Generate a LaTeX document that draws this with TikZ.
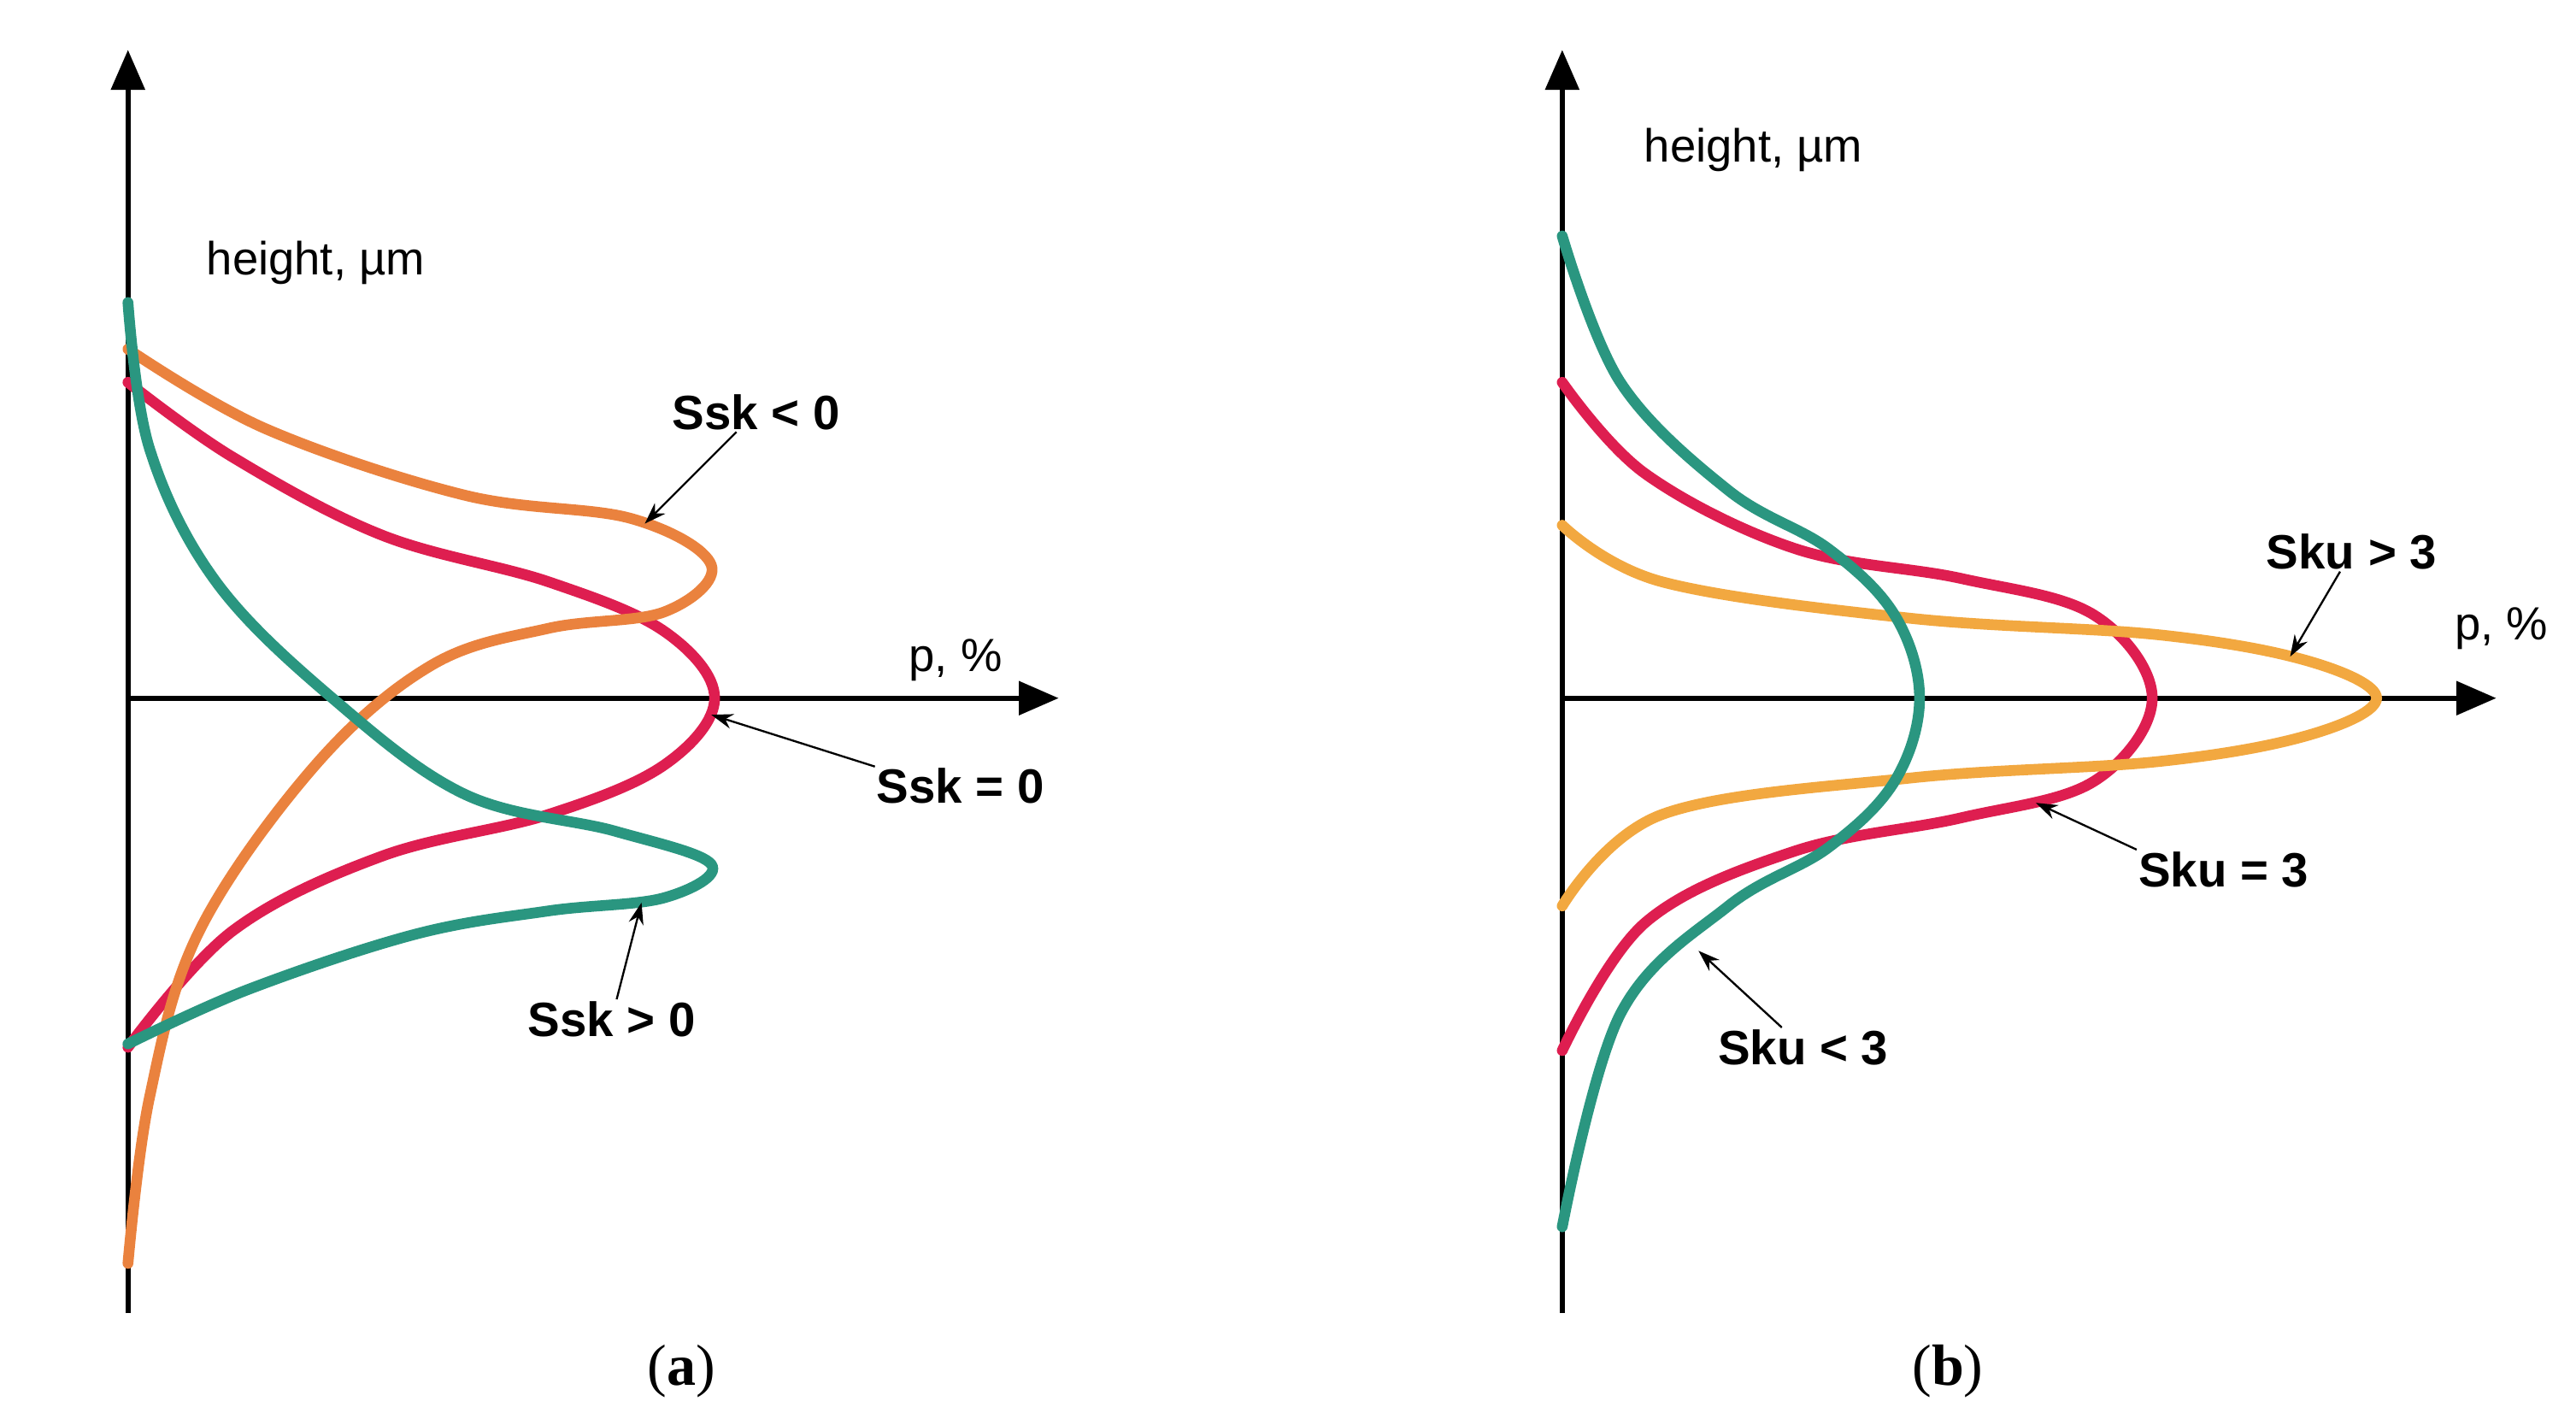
\documentclass[tikz,border=0pt]{standalone}
\usepackage{fontspec}
\setmainfont{Liberation Sans}
\newfontfamily\capfont{Liberation Serif}
\usetikzlibrary{arrows.meta}
\definecolor{cRed}{RGB}{222,30,80}
\definecolor{cOrange}{RGB}{234,130,62}
\definecolor{cLight}{RGB}{242,168,64}
\definecolor{cTeal}{RGB}{42,150,128}
\tikzset{
  axis/.style={line width=3pt,-{Triangle[length=24pt,width=20pt]}},
  curve/.style={line width=6.5pt,line cap=round},
  lab/.style={font=\fontsize{29}{33}\selectfont\bfseries,inner sep=1pt},
  ax lab/.style={font=\fontsize{28}{32}\selectfont,inner sep=1pt},
  panel cap/.style={font=\capfont\fontsize{35}{40}\selectfont},
  pointer/.style={line width=1.2pt,-{Stealth[length=13pt,width=9pt]}}
}
\begin{document}
\begin{tikzpicture}[x=1pt,y=-1pt]
	\useasboundingbox (0,0) rectangle (1550,857);
	% left panel: skewness
	\coordinate (oa) at (77,420);
	\draw [axis] (77,790) -- (77,30);
	\draw [axis] (oa) -- (637,420);
	\node [ax lab] (hta) at (190,158) {height, µm};
	\node [ax lab] (pa) at (575,397) {p, \%};
	
	\draw [curve,cRed] plot [smooth,tension=0.6] coordinates {(77,230) (140,275) (230,322) (330,350) (400,380) (430,420) (400,460) (330,490) (230,515) (140,560) (77,630)};
	\draw [curve,cOrange] plot [smooth,tension=0.6] coordinates {(77,210) (160,258) (280,298) (380,312) (428,340) (400,368) (330,378) (260,400) (190,460) (120,560) (90,660) (77,760)};
	\draw [curve,cTeal] plot [smooth,tension=0.6] coordinates {(77,182) (90,270) (130,350) (200,420) (280,478) (370,500) (428,520) (400,540) (330,548) (250,562) (150,595) (77,628)};
	
	\coordinate (ska) at (388,315);
	\coordinate (skb) at (428,430);
	\coordinate (skc) at (386,543);
	\node [lab] (lska) at (455,248) {Ssk < 0};
	\node [lab] (lskb) at (578,473) {Ssk = 0};
	\node [lab] (lskc) at (368,613) {Ssk > 0};
	\draw [pointer] (lska) -- (ska);
	\draw [pointer] (lskb.north west) -- (skb);
	\draw [pointer] (lskc) -- (skc);
	\node [panel cap] (capa) at (410,825) {(\textbf{a})};
	
	% right panel: kurtosis
	\coordinate (ob) at (940,420);
	\draw [axis] (940,790) -- (940,30);
	\draw [axis] (ob) -- (1502,420);
	\node [ax lab] (htb) at (1055,90) {height, µm};
	\node [ax lab] (pb) at (1505,378) {p, \%};
	
	\draw [curve,cRed] plot [smooth,tension=0.6] coordinates {(940,230) (990,285) (1080,330) (1180,348) (1260,370) (1295,420) (1260,470) (1180,492) (1080,512) (990,555) (940,632)};
	\draw [curve,cLight] plot [smooth,tension=0.6] coordinates {(940,316) (1000,350) (1150,372) (1300,382) (1390,398) (1430,420) (1390,442) (1300,458) (1150,468) (1000,490) (940,545)};
	\draw [curve,cTeal] plot [smooth,tension=0.6] coordinates {(940,142) (975,230) (1040,295) (1100,330) (1140,370) (1155,420) (1140,470) (1100,510) (1040,545) (975,610) (940,738)};
	
	\coordinate (kua) at (1378,395);
	\coordinate (kub) at (1225,483);
	\coordinate (kuc) at (1022,572);
	\node [lab] (lkua) at (1415,332) {Sku > 3};
	\node [lab] (lkub) at (1338,523) {Sku = 3};
	\node [lab] (lkuc) at (1085,630) {Sku < 3};
	\draw [pointer] (lkua) -- (kua);
	\draw [pointer] (lkub.north west) -- (kub);
	\draw [pointer] (lkuc) -- (kuc);
	\node [panel cap] (capb) at (1172,825) {(\textbf{b})};
\end{tikzpicture}
\end{document}
